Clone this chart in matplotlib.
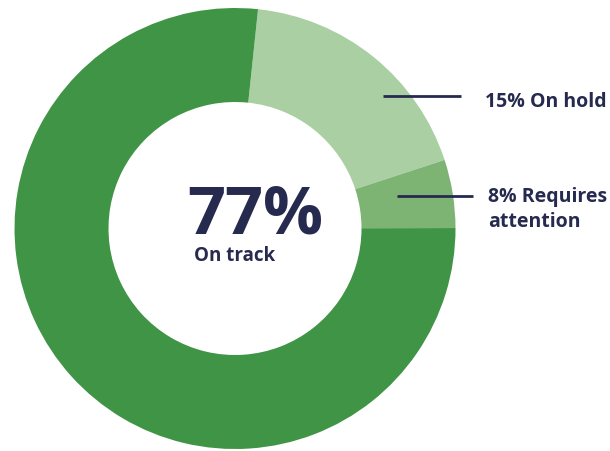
import matplotlib
matplotlib.use("Agg")
import matplotlib.pyplot as plt

# wedge shares as drawn (degrees, as % of the circle)
labels = ["On hold", "Requires attention", "On track"]
shares = [18.3, 5.0, 76.7]
label_pct = [15, 8, 77]
colors = ["#a9cfa3", "#7db474", "#3f9445"]
navy = "#262a4f"

plt.rcParams['font.family'] = ['Open Sans', 'DejaVu Sans']

W, H = 610, 451
fig = plt.figure(figsize=(W / 100, H / 100), dpi=100)
ax = fig.add_axes([0, 0, 1, 1])

cx, cy, R = 235, H - 228.5, 220.5
ax.pie(shares, colors=colors, startangle=84, counterclock=False,
       center=(cx, cy), radius=R,
       wedgeprops=dict(width=R - 126.5, linewidth=0))

ax.set_xlim(0, W)
ax.set_ylim(0, H)
ax.set_aspect('equal')
ax.axis('off')

# centre text
ax.text(255, H - 234, "%d%%" % label_pct[2], fontsize=48, fontweight='bold',
        color=navy, ha='center', va='baseline')
ax.text(235, H - 261, labels[2], fontsize=13.5, fontweight='bold',
        color=navy, ha='center', va='baseline')

# leader lines and side labels
ax.plot([383, 461], [H - 96, H - 96], color=navy, lw=2, solid_capstyle='butt')
ax.text(485, H - 107, "%d%% %s" % (label_pct[0], labels[0]), fontsize=14,
        fontweight='bold', color=navy, ha='left', va='baseline')

ax.plot([397, 473], [H - 196, H - 196], color=navy, lw=2, solid_capstyle='butt')
ax.text(488, H - 202, "%d%% Requires" % label_pct[1], fontsize=14,
        fontweight='bold', color=navy, ha='left', va='baseline')
ax.text(488, H - 227, "attention", fontsize=14,
        fontweight='bold', color=navy, ha='left', va='baseline')

fig.savefig("out.png", dpi=100)
